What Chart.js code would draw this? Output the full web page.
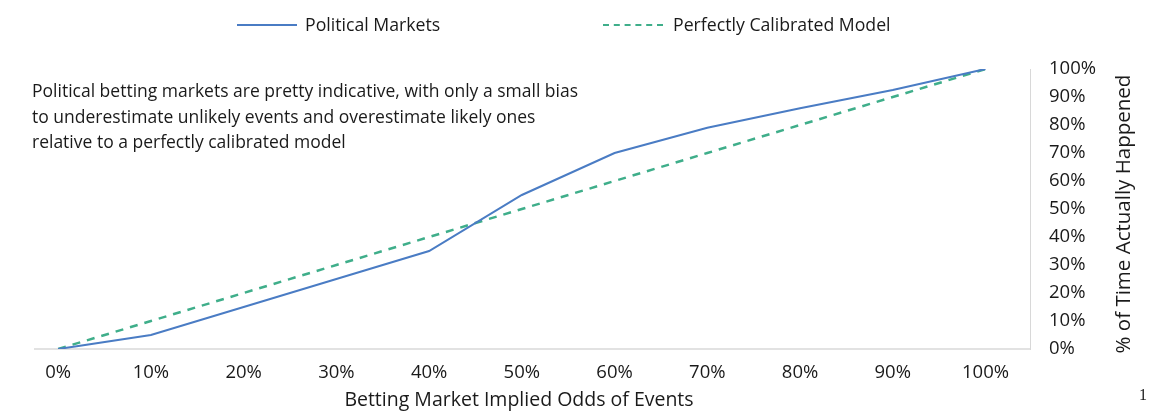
<!DOCTYPE html>
<html>
<head>
<meta charset="utf-8">
<script src="https://cdn.jsdelivr.net/npm/chart.js@4/dist/chart.umd.min.js"></script>
<style>
  html, body { margin: 0; padding: 0; background: #fff; }
  #wrap { position: relative; width: 1151px; height: 412px; font-family: "Open Sans", sans-serif; color: #1a1a1a; }
  #c { position: absolute; left: 0; top: 0; }
  .txt { position: absolute; white-space: nowrap; }
  #note { left: 32px; top: 78px; font-size: 17.5px; line-height: 25.5px; }
  #xtitle { left: 0; width: 1038px; text-align: center; top: 385px; font-size: 19.5px; }
  #ytitle { left: 1122px; top: 214px; font-size: 20.5px; transform: translate(-50%, -50%) rotate(-90deg); }
  #page { left: 1139px; top: 386px; font-family: "Liberation Serif", serif; font-size: 16px; }
  .leg { position: absolute; top: 12px; font-size: 17.7px; white-space: nowrap; }
  .sw { position: absolute; width: 60px; height: 0; top: 12px; }
</style>
</head>
<body>
<div id="wrap">
  <canvas id="c" width="1151" height="412"></canvas>
  <div class="leg" style="left:237px;"><span class="sw" style="left:0;border-top:2px solid #4a7cc4;"></span><span style="margin-left:68px;">Political Markets</span></div>
  <div class="leg" style="left:603px;"><span class="sw" style="left:0;border-top:2.5px dashed #3fae8a;"></span><span style="margin-left:70px;">Perfectly Calibrated Model</span></div>
  <div class="txt" id="note">Political betting markets are pretty indicative, with only a small bias<br>to underestimate unlikely events and overestimate likely ones<br>relative to a perfectly calibrated model</div>
  <div class="txt" id="xtitle">Betting Market Implied Odds of Events</div>
  <div class="txt" id="ytitle">% of Time Actually Happened</div>
  <div class="txt" id="page">1</div>
</div>
<script>
const impliedOdds = [0, 2, 10, 20, 30, 40, 50, 60, 70, 80, 90, 100];
const politicalMarkets = [0, 1, 5, 15, 25, 35, 55, 70, 79, 86, 92.5, 100];
const calibratedOdds = [0, 10, 20, 30, 40, 50, 60, 70, 80, 90, 100];
const calibratedModel = [0, 10, 20, 30, 40, 50, 60, 70, 80, 90, 100];
const xTickValues = [0, 10, 20, 30, 40, 50, 60, 70, 80, 90, 100];
const yTickValues = [0, 10, 20, 30, 40, 50, 60, 70, 80, 90, 100];

const pm = impliedOdds.map((x, i) => ({ x: x, y: politicalMarkets[i] }));
const cm = calibratedOdds.map((x, i) => ({ x: x, y: calibratedModel[i] }));

new Chart(document.getElementById('c'), {
  type: 'line',
  data: {
    datasets: [
      { label: 'Political Markets', data: pm, borderColor: '#4a7cc4', borderWidth: 2, pointRadius: 0, tension: 0, order: 1 },
      { label: 'Perfectly Calibrated Model', data: cm, borderColor: '#3fae8a', borderWidth: 2.5, borderDash: [8, 7], pointRadius: 0, tension: 0, order: 2 }
    ]
  },
  options: {
    responsive: false,
    animation: false,
    layout: { padding: { left: 35, top: 69, right: 0, bottom: 0 } },
    plugins: { legend: { display: false }, tooltip: { enabled: false } },
    scales: {
      x: {
        type: 'linear',
        min: -2.5,
        max: 104.8,
        afterBuildTicks: s => { s.ticks = xTickValues.map(v => ({ value: v })); },
        afterFit: s => { s.height = 63; },
        grid: { display: false, drawTicks: false },
        border: { display: true, color: '#e2e2e2', width: 2 },
        ticks: { padding: 13, color: '#1a1a1a', font: { family: 'Open Sans', size: 18.5 }, callback: v => v + '%', maxRotation: 0, autoSkip: false }
      },
      y: {
        position: 'right',
        min: 0,
        max: 100,
        afterBuildTicks: s => { s.ticks = yTickValues.map(v => ({ value: v })); },
        afterFit: s => { s.width = 121; },
        grid: { display: false, drawTicks: false },
        border: { display: true, color: '#d8d8d8', width: 1 },
        ticks: { padding: 19, color: '#1a1a1a', font: { family: 'Open Sans', size: 18.5 }, callback: v => v + '%', autoSkip: false }
      }
    }
  }
});
</script>
</body>
</html>
